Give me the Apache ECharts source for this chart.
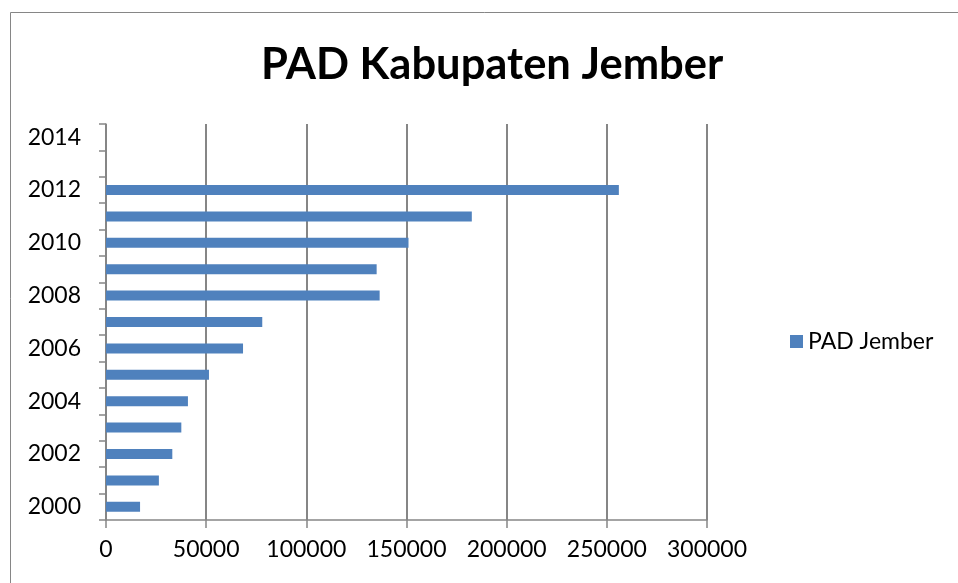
<!DOCTYPE html>
<html>
<head>
<meta charset="utf-8">
<script src="https://cdn.jsdelivr.net/npm/echarts@6/dist/echarts.min.js"></script>
<style>html,body{margin:0;padding:0;background:#fff;}#c{width:958px;height:583px;}</style>
</head>
<body>
<div id="c"></div>
<script>
const years = ['2000','2001','2002','2003','2004','2005','2006','2007','2008','2009','2010','2011','2012','2013','2014'];
const padJember = [17000, 26400, 33100, 37600, 40900, 51400, 68400, 78000, 136600, 135100, 151000, 182600, 256000, null, null];
const xTicks = [0, 50000, 100000, 150000, 200000, 250000, 300000];
const seriesName = 'PAD Jember';
const titleText = 'PAD Kabupaten Jember';

const font = 'Lato, "Open Sans", sans-serif';
const chart = echarts.init(document.getElementById('c'), null, {renderer: 'canvas'});
chart.setOption({
  animation: false,
  backgroundColor: '#fff',
  title: {
    text: titleText, left: 256, top: 38,
    textStyle: {fontFamily: font, fontSize: 43.5, fontWeight: 'bold', color: '#000'}
  },
  graphic: [{
    type: 'rect', shape: {x: 10.5, y: 12.5, width: 960, height: 600},
    style: {fill: null, stroke: '#868686', lineWidth: 1}, silent: true, z: -1
  }],
  legend: {
    data: [seriesName], left: 785, top: 325, orient: 'vertical',
    itemWidth: 13, itemHeight: 13, itemGap: 8,
    textStyle: {fontFamily: font, fontSize: 23, color: '#000'},
    icon: 'rect'
  },
  grid: {left: 106, right: 251, top: 124, bottom: 63, containLabel: false},
  xAxis: {
    type: 'value', min: 0, max: 300000, interval: 50000,
    axisLine: {show: true, lineStyle: {color: '#868686', width: 1.5}},
    axisTick: {show: true, length: 8, lineStyle: {color: '#868686', width: 1.5}},
    axisLabel: {fontFamily: font, fontSize: 23, color: '#000', margin: 18,
      formatter: v => xTicks.includes(v) ? String(v) : ''},
    splitLine: {show: true, lineStyle: {color: '#868686', width: 2}}
  },
  yAxis: {
    type: 'category', data: years, boundaryGap: true,
    axisLine: {show: true, lineStyle: {color: '#868686', width: 1.5}},
    axisTick: {show: true, length: 7, interval: 0, lineStyle: {color: '#868686', width: 1.5}},
    axisLabel: {fontFamily: font, fontSize: 23, color: '#000', margin: 25,
      interval: (i) => i % 2 === 0},
    splitLine: {show: false}
  },
  series: [{
    name: seriesName, type: 'bar', data: padJember, barWidth: 10,
    itemStyle: {color: '#4F81BD'}
  }]
});
</script>
</body>
</html>
